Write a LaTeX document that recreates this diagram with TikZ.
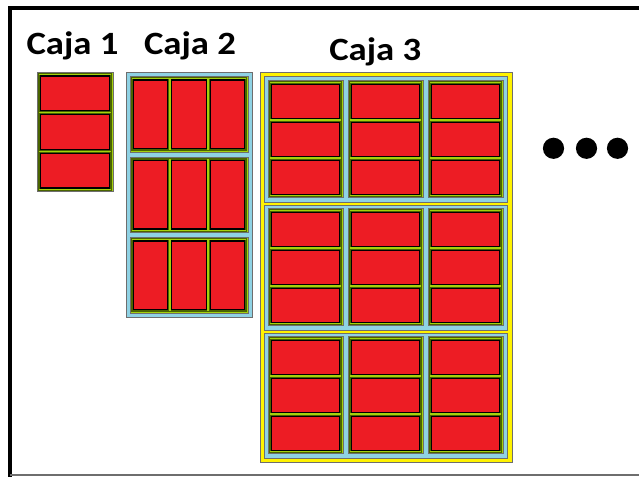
\documentclass[tikz,border=0pt]{standalone}
\usepackage{fontspec}
\setmainfont{Carlito}
\usetikzlibrary{calc}
\definecolor{cellred}{HTML}{ED1C24}
\definecolor{lime}{HTML}{A4D10C}
\definecolor{darkolive}{HTML}{4A6400}
\definecolor{lblue}{HTML}{8FD2E4}
\definecolor{yel}{HTML}{FFF200}
\definecolor{edgegray}{HTML}{6E6E6E}
\tikzset{
  cellring/.style={draw=darkolive, line width=2.4pt},
  cellst/.style={fill=cellred, draw=black, line width=1.1pt},
  gbfill/.style={fill=lime, draw=edgegray, line width=0.9pt},
  gbin/.style={draw=darkolive, line width=0.9pt},
  bbfill/.style={fill=lblue, draw=edgegray, line width=1pt},
  ybfill/.style={fill=yel, draw=edgegray, line width=1pt},
  title/.style={font=\bfseries\fontsize{32.5}{34}\selectfont, anchor=base, inner sep=0pt},
  dot/.style={fill=black, draw=none},
  frameline/.style={draw=black, line width=4pt},
}
% one red cell
\newcommand\cellbox[4]{%
  \draw[cellring] (#1,#2) rectangle ++(#3,#4);
  \filldraw[cellst] (#1,#2) rectangle ++(#3,#4);}
% green box: x y w h dir (0 = cells stacked, 1 = cells side by side)
\newcommand\gbox[5]{%
  \filldraw[gbfill] (#1,#2) rectangle ++(#3,#4);
  \draw[gbin] ($(#1,#2)+(1.1,1.1)$) rectangle ($(#1,#2)+(#3,#4)+(-1.1,-1.1)$);
  \ifnum#5=0
    \pgfmathsetmacro\ch{(#4-15)/3}%
    \foreach \i in {0,1,2}{%
      \pgfmathsetmacro\cy{#2+3.5+\i*(\ch+4)}%
      \cellbox{#1+3.5}{\cy}{#3-7}{\ch}}%
  \else
    \pgfmathsetmacro\cw{(#3-15)/3}%
    \foreach \i in {0,1,2}{%
      \pgfmathsetmacro\cx{#1+3.5+\i*(\cw+4)}%
      \cellbox{\cx}{#2+3.5}{\cw}{#4-7}}%
  \fi}
% blue box: x y w h dir (0 = green boxes stacked, 1 = side by side)
\newcommand\bbox[5]{%
  \filldraw[bbfill] (#1,#2) rectangle ++(#3,#4);
  \ifnum#5=0
    \pgfmathsetmacro\gh{(#4-18)/3}%
    \foreach \j in {0,1,2}{%
      \pgfmathsetmacro\gy{#2+4+\j*(\gh+5)}%
      \gbox{#1+4}{\gy}{#3-8}{\gh}{1}}%
  \else
    \pgfmathsetmacro\gw{(#3-18)/3}%
    \foreach \j in {0,1,2}{%
      \pgfmathsetmacro\gx{#1+4+\j*(\gw+5)}%
      \gbox{\gx}{#2+3.7}{\gw}{#4-8.5}{0}}%
  \fi}
\begin{document}
\begin{tikzpicture}[x=1pt,y=-1pt]
\useasboundingbox (0,0) rectangle (639,476);
\fill[white] (0,0) rectangle (639,476);
% outer frame
\draw[frameline] (10,480) -- (10,8) -- (645,8);
\draw[edgegray, line width=1.5pt] (10,475.2) -- (640,475.2);
% titles
\node[title] (t1) at (72.5,55) {\scalebox{1.13}[1]{Caja 1}};
\node[title] (t2) at (190,55) {\scalebox{1.13}[1]{Caja 2}};
\node[title] (t3) at (375.3,60.5) {\scalebox{1.13}[1]{Caja 3}};
% Caja 1
\gbox{37}{72.5}{76}{119}{0}
% Caja 2
\bbox{126}{72.5}{126}{244.5}{0}
% Caja 3
\filldraw[ybfill] (260,72.5) rectangle (512,462.5);
\foreach \k in {0,1,2}{%
  \pgfmathsetmacro\by{77+\k*128}%
  \bbox{264}{\by}{243}{125.5}{1}}
% dots
\fill[dot] (553.5,148.3) circle (10.6);
\fill[dot] (586.5,148.3) circle (10.6);
\fill[dot] (617.5,148.3) circle (10.6);
\end{tikzpicture}
\end{document}
